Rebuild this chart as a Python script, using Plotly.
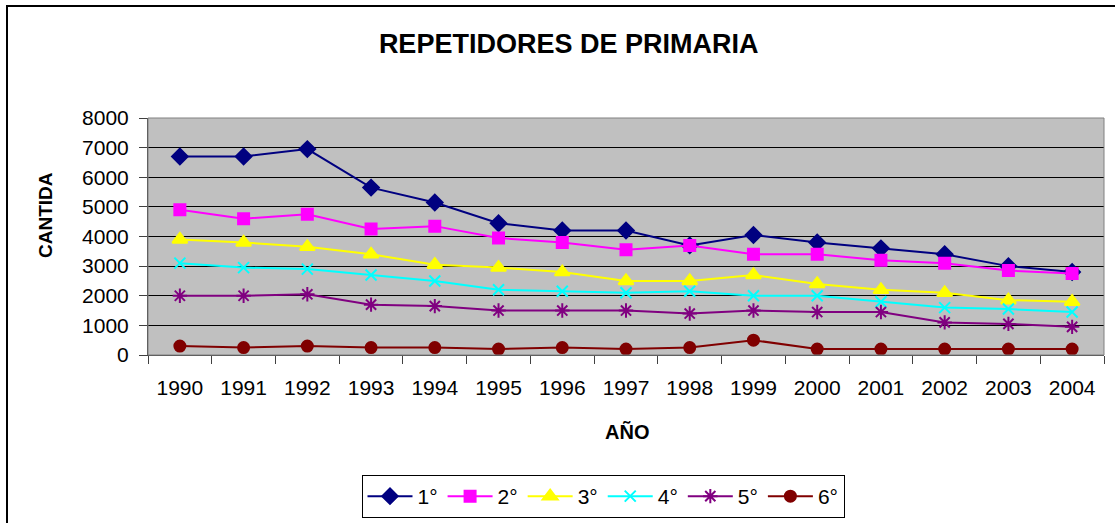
import plotly.graph_objects as go

# datos
anios = ['1990', '1991', '1992', '1993', '1994', '1995', '1996', '1997',
         '1998', '1999', '2000', '2001', '2002', '2003', '2004']

grado_1 = [6700, 6700, 6950, 5650, 5150, 4450, 4200, 4200, 3700, 4050, 3800, 3600, 3400, 3000, 2800]
grado_2 = [4900, 4600, 4750, 4250, 4350, 3950, 3800, 3550, 3700, 3400, 3400, 3200, 3100, 2850, 2750]
grado_3 = [3900, 3800, 3650, 3400, 3050, 2950, 2800, 2500, 2500, 2700, 2400, 2200, 2100, 1850, 1800]
grado_4 = [3100, 2950, 2900, 2700, 2500, 2200, 2150, 2100, 2150, 2000, 2000, 1800, 1600, 1550, 1450]
grado_5 = [2000, 2000, 2050, 1700, 1650, 1500, 1500, 1500, 1400, 1500, 1450, 1450, 1100, 1050, 950]
grado_6 = [300, 250, 300, 250, 250, 200, 250, 200, 250, 500, 200, 200, 200, 200, 200]

nombres = ['1°', '2°', '3°', '4°', '5°', '6°']
y_ticks = [0, 1000, 2000, 3000, 4000, 5000, 6000, 7000, 8000]

series = [grado_1, grado_2, grado_3, grado_4, grado_5, grado_6]
colores = ['#000080', '#FF00FF', '#FFFF00', '#00FFFF', '#800080', '#800000']
simbolos = ['diamond', 'square', 'triangle-up', 'x-thin-open', 'asterisk-open', 'circle']
tamanos = [12, 11, 13, 11, 12, 11]

FONT = 'Liberation Sans, Arial, sans-serif'
W, H = 1115, 523
L, R, T, B = 148, 11, 118, 168
PW, PH = W - L - R, H - T - B


def px_x(p):
    return (p - L) / PW


def px_y(p):
    return (H - B - p) / PH


fig = go.Figure()
for vals, nom, col, sym, sz in zip(series, nombres, colores, simbolos, tamanos):
    fig.add_trace(go.Scatter(
        x=anios, y=vals, name=nom, mode='lines+markers',
        line=dict(color=col, width=2),
        marker=dict(symbol=sym, size=sz, color=col, line=dict(color=col, width=2)),
    ))

fig.update_layout(
    width=W, height=H,
    margin=dict(l=L, r=R, t=T, b=B, autoexpand=False),
    paper_bgcolor='white',
    plot_bgcolor='#C0C0C0',
    font=dict(family=FONT, color='black', size=21),
    title=dict(text='<b>REPETIDORES DE PRIMARIA</b>', font=dict(size=27, family=FONT),
               x=0.51, xanchor='center', xref='container',
               y=1 - 44 / H, yanchor='middle', yref='container'),
    showlegend=True,
    legend=dict(orientation='h', x=603 / W, xanchor='center', xref='container',
                y=1 - 475 / H, yanchor='top', yref='container',
                bordercolor='black', borderwidth=1, bgcolor='white',
                font=dict(size=21), itemwidth=45, tracegroupgap=0),
    xaxis=dict(type='category', range=[-0.5, 14.5], showgrid=False,
               ticks='outside', tickson='boundaries', ticklen=8, tickcolor='#404040',
               showline=True, linecolor='#404040', linewidth=1,
               tickfont=dict(size=21), ticklabelstandoff=14, automargin=False),
    yaxis=dict(range=[0, 8000], tickvals=y_ticks, showgrid=True, gridcolor='black', gridwidth=1,
               ticks='outside', ticklen=8, tickcolor='#404040',
               showline=True, linecolor='#404040', linewidth=1,
               tickfont=dict(size=21), ticklabelstandoff=6, zeroline=False, automargin=False),
)

# borde gris del area de trazado
fig.add_shape(type='rect', xref='paper', yref='paper', x0=0, x1=1, y0=0, y1=1,
              line=dict(color='#808080', width=1), layer='above')
# borde exterior del grafico
fig.add_shape(type='rect', xref='paper', yref='paper', x0=px_x(7), x1=px_x(1140),
              y0=px_y(540), y1=px_y(6), line=dict(color='black', width=2))

fig.add_annotation(text='<b>AÑO</b>', xref='paper', yref='paper',
                   x=px_x(627), y=px_y(432), showarrow=False,
                   font=dict(size=20, family=FONT), xanchor='center', yanchor='middle')
fig.add_annotation(text='<b>CANTIDA</b>', xref='paper', yref='paper',
                   x=px_x(45), y=px_y(215), showarrow=False, textangle=-90,
                   font=dict(size=19, family=FONT), xanchor='center', yanchor='middle')

# quitar el margen por defecto del body para que el grafico empiece en (0, 0)
fig.write_html('out.html', config={'displayModeBar': False},
               post_script="document.body.style.margin='0';document.body.style.overflow='hidden';")
